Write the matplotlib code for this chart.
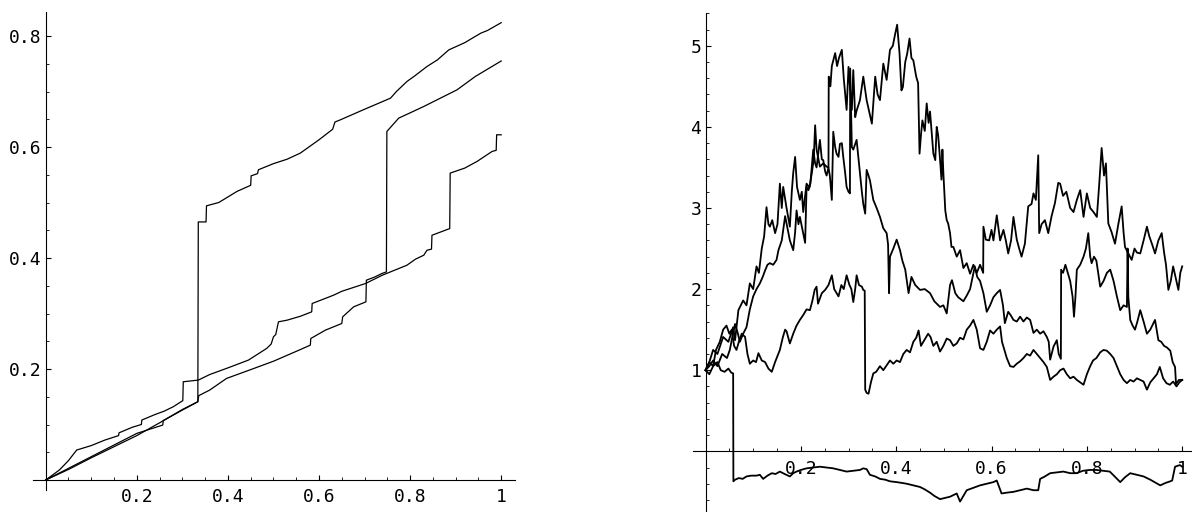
import matplotlib
matplotlib.use('Agg')
import matplotlib.pyplot as plt
from matplotlib.ticker import FixedLocator, MultipleLocator

# left panel: three increasing step paths
a_x = [0, 0.05, 0.1, 0.15, 0.2, 0.25, 0.3, 0.334, 0.335, 0.352, 0.353, 0.38, 0.40, 0.42, 0.45, 0.451,
       0.465, 0.467, 0.50, 0.53, 0.559, 0.60, 0.63, 0.635, 0.647, 0.70, 0.757, 0.77, 0.793, 0.81, 0.837,
       0.86, 0.885, 0.92, 0.955, 0.97, 1.0]
a_y = [0, 0.019, 0.04, 0.06, 0.08, 0.103, 0.127, 0.141, 0.465, 0.465, 0.494, 0.50, 0.51, 0.52, 0.531, 0.548,
       0.552, 0.559, 0.57, 0.578, 0.589, 0.613, 0.632, 0.645, 0.649, 0.668, 0.688, 0.70, 0.718, 0.728, 0.745,
       0.757, 0.775, 0.788, 0.805, 0.81, 0.824]

b_x = [0, 0.05, 0.1, 0.15, 0.2, 0.257, 0.258, 0.3, 0.334, 0.336, 0.36, 0.397, 0.457, 0.50, 0.559, 0.581,
       0.582, 0.614, 0.650, 0.652, 0.676, 0.703, 0.704, 0.723, 0.738, 0.748, 0.749, 0.775, 0.830, 0.903,
       0.943, 1.0]
b_y = [0, 0.021, 0.042, 0.063, 0.084, 0.099, 0.107, 0.126, 0.141, 0.152, 0.162, 0.183, 0.201, 0.214, 0.235,
       0.243, 0.255, 0.270, 0.282, 0.294, 0.312, 0.321, 0.360, 0.366, 0.372, 0.375, 0.628, 0.652, 0.673,
       0.703, 0.727, 0.755]

c_x = [0, 0.03, 0.05, 0.068, 0.1, 0.13, 0.16, 0.161, 0.19, 0.21, 0.211, 0.24, 0.26, 0.28, 0.301, 0.302,
       0.335, 0.36, 0.40, 0.445, 0.485, 0.495, 0.50, 0.505, 0.511, 0.53, 0.559, 0.584, 0.585, 0.632, 0.65,
       0.702, 0.739, 0.76, 0.793, 0.812, 0.830, 0.837, 0.847, 0.848, 0.887, 0.888, 0.92, 0.947, 0.98,
       0.989, 0.99, 1.0]
c_y = [0, 0.018, 0.035, 0.054, 0.062, 0.072, 0.080, 0.085, 0.095, 0.100, 0.108, 0.118, 0.124, 0.132, 0.143,
       0.177, 0.18, 0.19, 0.202, 0.216, 0.237, 0.245, 0.258, 0.262, 0.285, 0.288, 0.295, 0.303, 0.318,
       0.333, 0.34, 0.354, 0.369, 0.376, 0.387, 0.398, 0.405, 0.414, 0.416, 0.441, 0.453, 0.553, 0.562,
       0.574, 0.592, 0.594, 0.622, 0.622]

# right panel: three noisy paths and one that drops below zero
p_x = [0, 0.008, 0.016, 0.025, 0.037, 0.048, 0.058, 0.062, 0.069, 0.079, 0.086, 0.093, 0.100, 0.107, 0.112,
       0.118, 0.123, 0.128, 0.132, 0.135, 0.140, 0.146, 0.151, 0.156, 0.160, 0.163, 0.170, 0.177, 0.181,
       0.184, 0.188, 0.192, 0.198, 0.202, 0.205, 0.212, 0.218, 0.223, 0.227, 0.230, 0.233, 0.237, 0.240,
       0.247, 0.254, 0.258, 0.2585, 0.262, 0.265, 0.272, 0.276, 0.280, 0.286, 0.290, 0.293, 0.296, 0.300,
       0.303, 0.307, 0.310, 0.314, 0.317, 0.324, 0.331, 0.338, 0.343, 0.349, 0.356, 0.361, 0.366, 0.373,
       0.380, 0.387, 0.393, 0.398, 0.402, 0.407, 0.411, 0.414, 0.419, 0.423, 0.428, 0.432, 0.436, 0.442,
       0.446, 0.449, 0.452, 0.455, 0.460, 0.464, 0.468, 0.471, 0.475, 0.478, 0.482, 0.485, 0.488, 0.492,
       0.495, 0.497, 0.499, 0.503, 0.506, 0.509, 0.513, 0.516, 0.520, 0.527, 0.534, 0.541, 0.548, 0.555,
       0.562, 0.569, 0.576, 0.5825, 0.583, 0.588, 0.595, 0.600, 0.604, 0.611, 0.618, 0.625, 0.630, 0.635,
       0.641, 0.646, 0.653, 0.658, 0.663, 0.670, 0.677, 0.684, 0.688, 0.693, 0.698, 0.700, 0.705, 0.712,
       0.719, 0.726, 0.733, 0.740, 0.744, 0.750, 0.757, 0.765, 0.772, 0.779, 0.786, 0.793, 0.800, 0.807,
       0.814, 0.821, 0.826, 0.831, 0.836, 0.840, 0.842, 0.845, 0.852, 0.859, 0.866, 0.873, 0.877, 0.880,
       0.887, 0.894, 0.900, 0.905, 0.912, 0.919, 0.926, 0.931, 0.937, 0.943, 0.950, 0.957, 0.962, 0.966,
       0.971, 0.976, 0.981, 0.986, 0.992, 0.996, 1.0]
p_y = [1.0, 1.1, 1.25, 1.2, 1.41, 1.35, 1.53, 1.37, 1.74, 1.86, 1.8, 2.07, 2.0, 2.28, 2.2,
       2.50, 2.65, 3.01, 2.8, 2.77, 2.85, 2.69, 2.8, 3.3, 3.0, 3.26, 3.0, 2.77, 3.2,
       3.43, 3.63, 3.26, 3.10, 3.2, 2.95, 3.30, 3.25, 3.43, 3.6, 4.02, 3.72, 3.6, 3.51,
       3.55, 3.51, 3.5, 4.62, 4.5, 4.75, 4.91, 4.75, 4.85, 4.95, 4.6, 4.41, 4.21, 4.74,
       4.5, 4.21, 4.70, 4.12, 4.2, 4.33, 4.62, 4.33, 4.2, 4.04, 4.62, 4.4, 4.33, 4.78,
       4.58, 4.95, 5.0, 5.15, 5.26, 4.91, 4.45, 4.49, 4.8, 4.9, 5.09, 4.85, 4.82, 4.62,
       4.54, 3.67, 3.9, 4.08, 3.95, 4.29, 4.05, 4.19, 3.9, 3.67, 3.59, 4.0, 3.9, 3.6,
       3.35, 3.72, 3.43, 2.97, 2.85, 2.81, 2.69, 2.52, 2.52, 2.4, 2.48, 2.26, 2.32, 2.19,
       2.3, 2.2, 2.3, 2.2, 2.77, 2.61, 2.6, 2.73, 2.6, 2.91, 2.6, 2.73, 2.6, 2.44,
       2.6, 2.89, 2.61, 2.5, 2.40, 2.56, 3.02, 3.05, 3.18, 3.1, 3.65, 2.69, 2.8, 2.85,
       2.69, 2.9, 3.06, 3.31, 3.30, 3.15, 3.2, 3.00, 2.95, 3.1, 3.22, 2.89, 3.18, 3.0,
       2.95, 2.89, 3.3, 3.74, 3.4, 3.55, 3.26, 2.81, 2.7, 2.56, 2.8, 3.02, 2.7, 2.52,
       2.44, 2.36, 2.5, 2.45, 2.44, 2.6, 2.77, 2.65, 2.55, 2.44, 2.6, 2.69, 2.45, 2.3,
       1.99, 2.1, 2.28, 2.15, 1.99, 2.2, 2.28]

q_x = [0, 0.008, 0.016, 0.025, 0.035, 0.045, 0.051, 0.056, 0.062, 0.068, 0.072, 0.079, 0.086, 0.093, 0.100,
       0.107, 0.114, 0.120, 0.125, 0.130, 0.135, 0.142, 0.149, 0.153, 0.160, 0.167, 0.172, 0.177, 0.184,
       0.188, 0.191, 0.195, 0.198, 0.205, 0.209, 0.212, 0.216, 0.220, 0.226, 0.230, 0.233, 0.237, 0.240,
       0.244, 0.247, 0.251, 0.254, 0.258, 0.261, 0.265, 0.268, 0.272, 0.275, 0.279, 0.282, 0.286, 0.289,
       0.293, 0.296, 0.300, 0.303, 0.3035, 0.307, 0.310, 0.317, 0.321, 0.324, 0.328, 0.331, 0.335, 0.338,
       0.342, 0.345, 0.349, 0.352, 0.359, 0.366, 0.373, 0.380, 0.383, 0.385, 0.387, 0.394, 0.401, 0.408,
       0.413, 0.419, 0.426, 0.432, 0.440, 0.450, 0.460, 0.471, 0.480, 0.492, 0.499, 0.506, 0.513, 0.517,
       0.524, 0.530, 0.541, 0.548, 0.555, 0.565, 0.570, 0.576, 0.583, 0.590, 0.597, 0.604, 0.611, 0.618,
       0.624, 0.628, 0.635, 0.640, 0.646, 0.653, 0.660, 0.667, 0.674, 0.681, 0.688, 0.695, 0.702, 0.709,
       0.716, 0.720, 0.723, 0.730, 0.737, 0.741, 0.7455, 0.746, 0.750, 0.755, 0.760, 0.765, 0.770, 0.773,
       0.776, 0.779, 0.786, 0.793, 0.798, 0.803, 0.807, 0.810, 0.815, 0.820, 0.828, 0.835, 0.842, 0.849,
       0.856, 0.863, 0.870, 0.877, 0.884, 0.8855, 0.887, 0.891, 0.896, 0.901, 0.906, 0.912, 0.919, 0.926,
       0.933, 0.943, 0.950, 0.956, 0.962, 0.968, 0.975, 0.980, 0.985, 0.987, 0.993, 1.0]
q_y = [1.0, 1.05, 1.12, 1.05, 1.2, 1.15, 1.25, 1.4, 1.57, 1.45, 1.35, 1.45, 1.53, 1.75, 1.91,
       2.0, 2.07, 2.15, 2.23, 2.3, 2.32, 2.3, 2.36, 2.48, 2.6, 2.9, 2.75, 2.6, 2.48,
       2.7, 2.97, 2.8, 2.89, 2.69, 2.57, 3.26, 3.22, 3.3, 3.72, 3.55, 3.5, 3.7, 3.84,
       3.6, 3.59, 3.45, 3.4, 3.5, 3.39, 3.1, 3.94, 3.75, 3.67, 3.63, 3.79, 3.80, 3.63,
       3.43, 3.26, 3.2, 3.18, 4.72, 3.75, 3.72, 3.84, 3.6, 3.43, 3.2, 3.05, 2.93, 3.47,
       3.4, 3.34, 3.2, 3.10, 3.0, 2.89, 2.75, 2.69, 2.55, 1.95, 2.40, 2.5, 2.61, 2.48,
       2.35, 2.24, 1.95, 2.15, 2.05, 1.99, 2.0, 1.95, 1.85, 1.78, 1.8, 1.70, 2.05, 2.11,
       1.95, 1.9, 1.85, 1.92, 2.0, 2.28, 2.15, 2.1, 1.95, 1.72, 1.8, 1.9, 1.95, 1.99,
       1.8, 1.58, 1.72, 1.68, 1.62, 1.6, 1.66, 1.6, 1.65, 1.62, 1.46, 1.5, 1.45, 1.48,
       1.41, 1.35, 1.13, 1.29, 1.37, 1.2, 1.14, 2.24, 2.2, 2.30, 2.2, 2.10, 1.91, 1.66,
       1.9, 2.24, 2.3, 2.40, 2.5, 2.69, 2.4, 2.32, 2.4, 2.35, 2.03, 2.1, 2.2, 2.24,
       2.1, 1.91, 1.74, 1.8, 1.78, 2.5, 1.9, 1.62, 1.55, 1.50, 1.6, 1.74, 1.6, 1.45,
       1.5, 1.62, 1.37, 1.35, 1.3, 1.28, 1.24, 1.1, 1.04, 0.83, 0.88, 0.88]

r_x = [0, 0.008, 0.016, 0.022, 0.030, 0.037, 0.044, 0.050, 0.055, 0.060, 0.065, 0.070, 0.076, 0.083, 0.088,
       0.093, 0.100, 0.106, 0.111, 0.118, 0.125, 0.132, 0.139, 0.146, 0.156, 0.162, 0.167, 0.170, 0.177,
       0.184, 0.191, 0.198, 0.205, 0.212, 0.219, 0.224, 0.229, 0.233, 0.236, 0.244, 0.251, 0.258, 0.265,
       0.270, 0.275, 0.279, 0.285, 0.290, 0.296, 0.302, 0.306, 0.310, 0.314, 0.317, 0.322, 0.328, 0.331,
       0.334, 0.335, 0.338, 0.342, 0.347, 0.352, 0.358, 0.366, 0.373, 0.380, 0.387, 0.394, 0.401, 0.408,
       0.415, 0.422, 0.429, 0.436, 0.442, 0.447, 0.452, 0.457, 0.462, 0.467, 0.472, 0.478, 0.485, 0.492,
       0.499, 0.506, 0.513, 0.520, 0.527, 0.534, 0.541, 0.548, 0.555, 0.562, 0.569, 0.576, 0.583, 0.590,
       0.597, 0.604, 0.611, 0.618, 0.622, 0.625, 0.632, 0.639, 0.646, 0.653, 0.660, 0.667, 0.674, 0.681,
       0.688, 0.695, 0.702, 0.709, 0.716, 0.720, 0.723, 0.730, 0.737, 0.744, 0.751, 0.758, 0.765, 0.772,
       0.779, 0.786, 0.793, 0.800, 0.807, 0.813, 0.820, 0.828, 0.835, 0.842, 0.849, 0.856, 0.863, 0.870,
       0.877, 0.884, 0.891, 0.898, 0.905, 0.912, 0.919, 0.926, 0.933, 0.940, 0.947, 0.953, 0.960, 0.967,
       0.974, 0.981, 0.988, 0.994, 1.0]
r_y = [1.0, 1.1, 1.05, 1.25, 1.35, 1.5, 1.55, 1.45, 1.5, 1.3, 1.25, 1.35, 1.45, 1.41, 1.2,
       1.08, 1.12, 1.1, 1.21, 1.12, 1.1, 1.02, 0.98, 1.1, 1.25, 1.4, 1.50, 1.48, 1.33,
       1.45, 1.55, 1.62, 1.68, 1.75, 1.74, 1.85, 1.99, 2.03, 1.82, 1.95, 1.99, 2.05, 2.17,
       2.0, 1.95, 1.91, 2.05, 2.0, 2.17, 2.05, 2.0, 1.84, 2.0, 2.17, 2.05, 2.03, 1.99,
       1.98, 0.76, 0.72, 0.71, 0.85, 0.96, 0.98, 1.05, 1.0, 1.06, 1.12, 1.08, 1.12, 1.1,
       1.2, 1.25, 1.22, 1.35, 1.4, 1.49, 1.30, 1.35, 1.4, 1.45, 1.41, 1.3, 1.35, 1.23,
       1.3, 1.39, 1.37, 1.3, 1.33, 1.4, 1.38, 1.5, 1.55, 1.62, 1.5, 1.27, 1.25, 1.35,
       1.49, 1.45, 1.5, 1.54, 1.35, 1.29, 1.15, 1.05, 1.04, 1.08, 1.11, 1.15, 1.2, 1.18,
       1.25, 1.2, 1.15, 1.1, 1.04, 0.95, 0.88, 0.92, 0.95, 1.0, 1.02, 0.95, 0.9, 0.92,
       0.88, 0.85, 0.82, 0.95, 1.05, 1.12, 1.15, 1.22, 1.25, 1.24, 1.2, 1.15, 1.05, 0.95,
       0.88, 0.84, 0.88, 0.86, 0.9, 0.88, 0.86, 0.76, 0.85, 0.9, 0.95, 1.04, 0.9, 0.84,
       0.82, 0.86, 0.8, 0.85, 0.88]

s_x = [0, 0.008, 0.016, 0.025, 0.032, 0.040, 0.048, 0.054, 0.058, 0.0585, 0.062, 0.07, 0.078, 0.086, 0.096,
       0.107, 0.114, 0.121, 0.130, 0.139, 0.147, 0.156, 0.166, 0.177, 0.184, 0.191, 0.200, 0.212, 0.226,
       0.240, 0.254, 0.268, 0.282, 0.296, 0.310, 0.324, 0.331, 0.338, 0.345, 0.356, 0.366, 0.377, 0.387,
       0.401, 0.412, 0.422, 0.436, 0.450, 0.460, 0.471, 0.480, 0.492, 0.499, 0.506, 0.513, 0.520, 0.527,
       0.534, 0.541, 0.548, 0.562, 0.576, 0.590, 0.604, 0.611, 0.621, 0.632, 0.646, 0.660, 0.674, 0.688,
       0.698, 0.702, 0.712, 0.723, 0.737, 0.751, 0.765, 0.778, 0.792, 0.806, 0.820, 0.834, 0.848, 0.860,
       0.870, 0.880, 0.891, 0.905, 0.919, 0.933, 0.945, 0.954, 0.965, 0.975, 0.979, 0.985, 0.995, 1.0]
s_y = [1.0, 0.95, 1.05, 1.1, 1.0, 0.98, 1.02, 0.97, 0.96, -0.37, -0.35, -0.33, -0.34, -0.31, -0.30,
       -0.30, -0.29, -0.34, -0.30, -0.27, -0.28, -0.25, -0.28, -0.31, -0.27, -0.25, -0.23, -0.21, -0.20,
       -0.19, -0.20, -0.21, -0.23, -0.25, -0.24, -0.23, -0.21, -0.22, -0.29, -0.31, -0.34, -0.35, -0.37,
       -0.38, -0.39, -0.40, -0.42, -0.44, -0.47, -0.51, -0.55, -0.59, -0.58, -0.57, -0.56, -0.54, -0.52,
       -0.62, -0.55, -0.48, -0.45, -0.42, -0.40, -0.38, -0.36, -0.52, -0.51, -0.50, -0.48, -0.46, -0.48,
       -0.48, -0.34, -0.31, -0.27, -0.26, -0.25, -0.27, -0.27, -0.24, -0.23, -0.23, -0.24, -0.25, -0.32,
       -0.38, -0.32, -0.27, -0.29, -0.31, -0.35, -0.39, -0.42, -0.39, -0.37, -0.36, -0.19, -0.17, -0.19]

left_xticks = [0.2, 0.4, 0.6, 0.8, 1.0]
left_xlabels = ['0.2', '0.4', '0.6', '0.8', '1']
left_yticks = [0.2, 0.4, 0.6, 0.8]
left_ylabels = ['0.2', '0.4', '0.6', '0.8']
right_xticks = [0.2, 0.4, 0.6, 0.8, 1.0]
right_xlabels = ['0.2', '0.4', '0.6', '0.8', '1']
right_yticks = [1, 2, 3, 4, 5]
right_ylabels = ['1', '2', '3', '4', '5']

W, H = 1192, 512
fig = plt.figure(figsize=(W / 100, H / 100), dpi=100)
plt.rcParams['font.family'] = ['DejaVu Sans Mono']


def make_axes(x0px, xscale, y0px, yscale, xlim, ylim):
    # place axes so data origin lands at pixel (x0px, y0px)
    left = x0px + xlim[0] * xscale
    right = x0px + xlim[1] * xscale
    top = y0px - ylim[1] * yscale
    bottom = y0px - ylim[0] * yscale
    ax = fig.add_axes([left / W, (H - bottom) / H, (right - left) / W, (bottom - top) / H])
    ax.set_xlim(*xlim)
    ax.set_ylim(*ylim)
    for side in ['top', 'right']:
        ax.spines[side].set_visible(False)
    ax.spines['left'].set_position(('data', 0))
    ax.spines['bottom'].set_position(('data', 0))
    for side in ['left', 'bottom']:
        ax.spines[side].set_linewidth(0.8)
    ax.patch.set_alpha(0)
    ax.tick_params(which='major', direction='in', length=3.6, width=0.8, labelsize=13)
    ax.tick_params(which='minor', direction='in', length=2.0, width=0.6)
    ax.tick_params(axis='x', pad=6)
    ax.tick_params(axis='y', pad=3)
    return ax


ax1 = make_axes(45.7, 455.5, 480, 555, (-0.027, 1.03), (-0.018, 0.843))
for xs, ys in [(a_x, a_y), (b_x, b_y), (c_x, c_y)]:
    ax1.plot(xs, ys, color='black', linewidth=0.9, clip_on=False)
ax1.xaxis.set_major_locator(FixedLocator(left_xticks))
ax1.set_xticklabels(left_xlabels)
ax1.yaxis.set_major_locator(FixedLocator(left_yticks))
ax1.set_yticklabels(left_ylabels)
ax1.xaxis.set_minor_locator(MultipleLocator(0.05))
ax1.yaxis.set_minor_locator(MultipleLocator(0.05))

ax2 = make_axes(705.5, 476.7, 451.3, 81.1, (-0.026, 1.021), (-0.745, 5.41))
for xs, ys in [(p_x, p_y), (q_x, q_y), (r_x, r_y), (s_x, s_y)]:
    ax2.plot(xs, ys, color='black', linewidth=1.3, clip_on=False)
ax2.xaxis.set_major_locator(FixedLocator(right_xticks))
ax2.set_xticklabels(right_xlabels)
ax2.yaxis.set_major_locator(FixedLocator(right_yticks))
ax2.set_yticklabels(right_ylabels)
ax2.xaxis.set_minor_locator(MultipleLocator(0.05))
ax2.yaxis.set_minor_locator(MultipleLocator(0.2))

fig.savefig('out.png', dpi=100)
